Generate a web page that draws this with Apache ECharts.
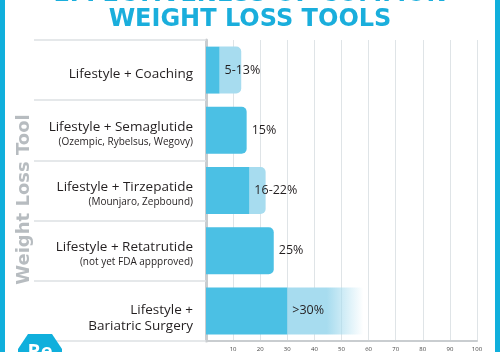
<!DOCTYPE html>
<html><head><meta charset="utf-8">
<script src="https://cdn.jsdelivr.net/npm/echarts@6/dist/echarts.min.js"></script>
<style>html,body{margin:0;padding:0;background:#fff}#c{width:500px;height:352px}</style>
</head><body><div id="c"></div>
<script>
const titleLine1 = 'EFFECTIVENESS OF COMMON';
const titleLine2 = 'WEIGHT LOSS TOOLS';
const axisName = 'Weight Loss Tool';
const catMain = ['Lifestyle + Coaching', 'Lifestyle + Semaglutide', 'Lifestyle + Tirzepatide', 'Lifestyle + Retatrutide', 'Lifestyle +\nBariatric Surgery'];
const catSub = ['', '(Ozempic, Rybelsus, Wegovy)', '(Mounjaro, Zepbound)', '(not yet FDA appproved)', ''];
const lowValues = [5, 15, 16, 25, 30];
const highValues = [13, 15, 22, 25, 58];
const labelTexts = ['5-13%', '15%', '16-22%', '25%', '>30%'];
const xTicks = {min: 0, max: 100, interval: 10};

const DARK = '#4bc0e4', LIGHT = '#a7dcef', BLUE = '#10afdc';
const FONT = 'Open Sans';
const HEAD = 'DejaVu Sans';

const darkData = lowValues.map((v, i) => ({
  value: v,
  itemStyle: {borderRadius: highValues[i] > v ? 0 : [0, 5, 5, 0]}
}));
const lightData = highValues.map((h, i) => {
  const d = h - lowValues[i];
  const item = {value: d, itemStyle: {borderRadius: [0, 5, 5, 0]}};
  if (i === catMain.length - 1) {
    item.itemStyle = {borderRadius: 0, color: new echarts.graphic.LinearGradient(0, 0, 1, 0, [
      {offset: 0, color: LIGHT}, {offset: 0.52, color: LIGHT},
      {offset: 1, color: 'rgba(167,220,239,0)'}
    ])};
  }
  return item;
});

const chart = echarts.init(document.getElementById('c'), null, {renderer: 'canvas'});
chart.setOption({
  animation: false,
  textStyle: {fontFamily: FONT},
  title: [
    {text: titleLine2, left: 'center', top: 8, padding: 0,
     textStyle: {fontFamily: HEAD, fontSize: 24, fontWeight: 'bold', color: '#1aaedc'}}
  ],
  grid: {left: 206, right: 23, top: 40, bottom: 6.5, containLabel: false},
  xAxis: {
    type: 'value', min: xTicks.min, max: xTicks.max, interval: xTicks.interval,
    axisLine: {show: true, lineStyle: {color: '#c9cdd0', width: 2}},
    axisTick: {show: false},
    splitLine: {show: true, lineStyle: {color: '#dfe4e7', width: 1}},
    axisLabel: {fontSize: 6, color: '#444', margin: 5, showMinLabel: false}
  },
  yAxis: {
    type: 'category', inverse: true, data: catMain,
    axisLine: {show: true, lineStyle: {color: '#c9cdd0', width: 3}},
    axisTick: {show: true, length: 172, lineStyle: {color: '#dde1e4', width: 1.5}},
    axisLabel: {
      margin: 13, align: 'right', padding: [8, 0, 0, 0],
      formatter: (v, i) => {
        const parts = v.split('\n');
        const lines = parts.map(s => '{m|' + s + '}');
        if (parts.length > 1 && !catSub[i]) lines.unshift('{e| }');
        if (catSub[i]) lines.push('{s|' + catSub[i] + '}');
        return lines.join('\n');
      },
      rich: {
        m: {fontFamily: FONT, fontSize: 13.5, color: '#231f20', lineHeight: 15.5},
        e: {fontSize: 1, lineHeight: 7},
        s: {fontFamily: FONT, fontSize: 10, color: '#231f20', lineHeight: 15}
      }
    },
    name: axisName, nameLocation: 'middle', nameRotate: 90, nameGap: 173,
    nameTextStyle: {fontFamily: HEAD, fontSize: 18, fontWeight: 'bold', color: '#b7bcc0', padding: [0, 18, 0, 0]}
  },
  series: [
    {type: 'bar', stack: 'a', z: 3, barWidth: '78%', data: darkData,
     itemStyle: {color: DARK},
     label: {show: true, position: 'right', distance: 5,
       formatter: p => labelTexts[p.dataIndex],
       fontFamily: FONT, fontSize: 12.5, color: '#231f20'}},
    {type: 'bar', stack: 'a', z: 2, barWidth: '78%', data: lightData,
     itemStyle: {color: LIGHT}}
  ],
  graphic: [
    {type: 'text', x: 250, y: -5.5, z: 50,
     style: {text: titleLine1, fill: '#1aaedc', fontFamily: HEAD, fontSize: 24, fontWeight: 'bold', align: 'center', verticalAlign: 'middle'}},
    {type: 'rect', shape: {x: 0, y: 0, width: 5, height: 352}, style: {fill: BLUE}, z: 100},
    {type: 'rect', shape: {x: 495, y: 0, width: 5, height: 352}, style: {fill: BLUE}, z: 100},
    {type: 'polygon', shape: {points: [[28, 334], [52, 334], [62, 349], [62, 352], [18, 352], [18, 349]]},
     style: {fill: BLUE}, z: 100},
    {type: 'text', x: 40, y: 342, z: 101,
     style: {text: 'Re', fill: '#fff', fontFamily: FONT, fontSize: 20, fontWeight: 'bold', align: 'center', verticalAlign: 'top'}}
  ]
});
</script></body></html>
